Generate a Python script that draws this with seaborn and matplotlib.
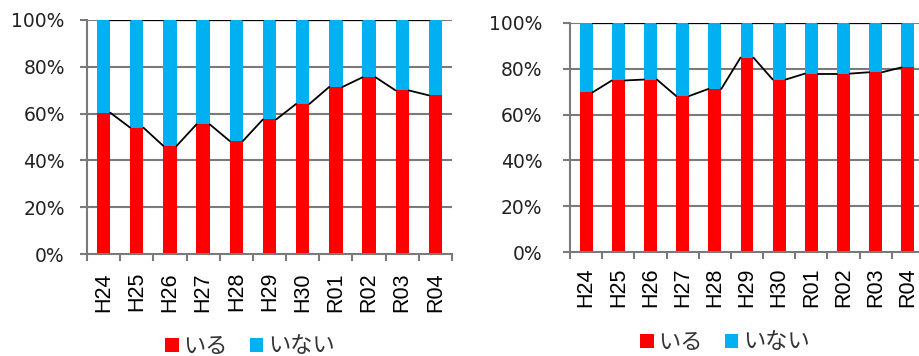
import matplotlib
matplotlib.use("Agg")
import matplotlib.pyplot as plt
import pandas as pd
import seaborn as sns
from matplotlib.patches import Patch
from matplotlib.ticker import PercentFormatter, FixedLocator

years = ["H24", "H25", "H26", "H27", "H28", "H29", "H30", "R01", "R02", "R03", "R04"]
left_iru = [60.4, 54.0, 46.2, 55.4, 48.3, 57.5, 64.1, 71.4, 75.5, 69.9, 67.8]
right_iru = [69.7, 74.9, 75.3, 68.1, 71.2, 84.9, 75.3, 77.9, 77.9, 78.5, 80.6]
labels = ["いる", "いない"]
colors = ["#FF0000", "#00B0F0"]

sns.set_style("white")
plt.rcParams["font.family"] = ["DejaVu Sans", "Noto Sans CJK JP"]

fig = plt.figure(figsize=(9.2, 3.56), dpi=100)
ax_l = fig.add_axes([87 / 920, 102 / 356, 365 / 920, 234 / 356])
ax_r = fig.add_axes([570 / 920, 104 / 356, 354 / 920, 229 / 356])

W = 0.4
grid_c = "#7A7A7A"


def draw(ax, iru, xpad, ypad):
    df = pd.DataFrame({"year": years, "iru": iru})
    df["inai"] = 100 - df["iru"]
    df["total"] = df["iru"] + df["inai"]
    sns.barplot(data=df, x="year", y="total", color=colors[1], width=W,
                saturation=1, ax=ax, zorder=2, linewidth=0)
    sns.barplot(data=df, x="year", y="iru", color=colors[0], width=W,
                saturation=1, ax=ax, zorder=2, linewidth=0)
    # series lines
    for i in range(len(df) - 1):
        xs = [i + W / 2, i + 1 - W / 2]
        ax.plot(xs, [df["iru"][i], df["iru"][i + 1]], color="black", lw=1.3, zorder=3)
        ax.plot(xs, [df["total"][i], df["total"][i + 1]], color="black", lw=1.6, zorder=3)
    ax.set_xlim(-0.5, len(df) - 0.5)
    ax.set_ylim(0, 100)
    ax.set_yticks(range(0, 101, 20))
    ax.yaxis.set_major_formatter(PercentFormatter(decimals=0))
    ax.tick_params(axis="y", labelsize=13.5, length=5, width=1.5, color=grid_c,
                   pad=ypad, labelcolor="#222222", left=True)
    ax.tick_params(axis="x", which="major", length=0, pad=xpad, labelrotation=90)
    ax.xaxis.set_minor_locator(FixedLocator([i - 0.5 for i in range(len(df) + 1)]))
    ax.tick_params(axis="x", which="minor", length=5, width=1.5, color=grid_c, bottom=True)
    for t in ax.get_xticklabels():
        t.set_fontfamily("Liberation Sans")
        t.set_fontsize(15.5)
        t.set_color("black")
    ax.set_xlabel("")
    ax.set_ylabel("")
    for s in ["top", "right"]:
        ax.spines[s].set_visible(False)
    for s in ["left", "bottom"]:
        ax.spines[s].set_visible(True)
        ax.spines[s].set_color(grid_c)
        ax.spines[s].set_linewidth(1.5)
    for yv in [20, 40, 60, 80, 100]:
        ax.axhline(yv, color=grid_c, linewidth=1.5, zorder=1)


draw(ax_l, left_iru, 13, 11)
draw(ax_r, right_iru, 11, 15)

handles = [Patch(facecolor=c, edgecolor="none") for c in colors]
for xc, yc in [(250 / 920, 10 / 356), (725 / 920, 14 / 356)]:
    fig.legend(handles, labels, loc="center", bbox_to_anchor=(xc, yc), ncol=2,
               frameon=False, prop={"family": "Noto Sans CJK JP", "size": 16},
               handlelength=0.6, handleheight=0.6, handletextpad=0.2,
               columnspacing=1.0, labelcolor="#333333")

fig.savefig("out.png", dpi=100)
